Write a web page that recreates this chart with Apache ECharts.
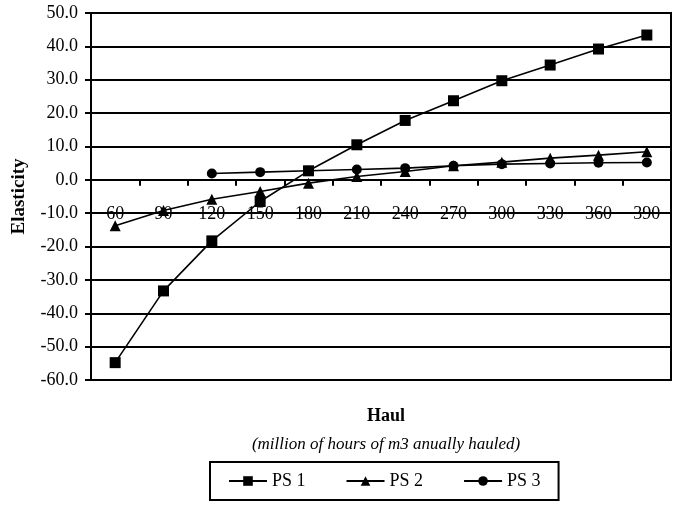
<!DOCTYPE html>
<html>
<head>
<meta charset="utf-8">
<script src="https://cdn.jsdelivr.net/npm/echarts@6/dist/echarts.min.js"></script>
<style>
  html, body { margin: 0; padding: 0; background: #fff; }
  #chart { width: 681px; height: 506px; }
</style>
</head>
<body>
<div id="chart"></div>
<script>
// Haul categories (x axis)
const haul = ['60', '90', '120', '150', '180', '210', '240', '270', '300', '330', '360', '390'];

// Elasticity per production scenario
const ps1 = [-54.8, -33.3, -18.3, -6.5, 2.7, 10.5, 17.8, 23.7, 29.7, 34.4, 39.2, 43.4];
const ps2 = [-13.8, -9.2, -5.8, -3.5, -1.0, 1.0, 2.5, 4.2, 5.3, 6.5, 7.4, 8.4];
const ps3 = [null, null, 1.9, 2.3, 2.7, 3.1, 3.5, 4.2, 4.7, 4.9, 5.1, 5.2];

// Value range of the elasticity axis
const yMin = -60, yMax = 50, yStep = 10;

const FONT = 'Liberation Serif, Times New Roman, serif';
const BLACK = '#000';

const GRID = { left: 91, right: 10, top: 13, bottom: 126 };
const plotHeight = 506 - GRID.top - GRID.bottom;
// lift the category axis from the bottom edge up to the zero line
const zeroOffset = -plotHeight * (0 - yMin) / (yMax - yMin);

const chart = echarts.init(document.getElementById('chart'));

function lineSeries(name, data, symbol, size) {
  return {
    name: name,
    type: 'line',
    data: data,
    symbol: symbol,
    symbolSize: size,
    connectNulls: false,
    lineStyle: { color: BLACK, width: 1.6 },
    itemStyle: { color: BLACK },
    emphasis: { disabled: true },
    animation: false
  };
}

chart.setOption({
  animation: false,
  textStyle: { fontFamily: FONT, color: BLACK },
  title: [
    {
      text: 'Haul',
      left: 381, top: 402, textAlign: 'center',
      textStyle: { fontFamily: FONT, fontSize: 18, fontWeight: 'bold', color: BLACK }
    },
    {
      text: '(million of hours of m3 anually hauled)',
      left: 381, top: 431, textAlign: 'center',
      textStyle: { fontFamily: FONT, fontSize: 17, fontStyle: 'italic', fontWeight: 'normal', color: BLACK }
    }
  ],
  legend: {
    left: 210, top: 462,
    padding: [10, 18, 10, 18],
    itemGap: 40,
    itemWidth: 38, itemHeight: 12,
    borderColor: BLACK, borderWidth: 2,
    textStyle: { fontFamily: FONT, fontSize: 18, color: BLACK },
    data: ['PS 1', 'PS 2', 'PS 3']
  },
  grid: {
    left: GRID.left, right: GRID.right, top: GRID.top, bottom: GRID.bottom,
    show: true, borderColor: BLACK, borderWidth: 2,
    containLabel: false
  },
  xAxis: {
    type: 'category',
    data: haul,
    boundaryGap: true,
    position: 'bottom',
    offset: zeroOffset,
    axisLine: { onZero: false, lineStyle: { color: BLACK, width: 2 } },
    axisTick: { show: true, inside: false, length: 6, lineStyle: { color: BLACK, width: 2 } },
    axisLabel: { margin: 25, fontFamily: FONT, fontSize: 18, color: BLACK },
    splitLine: { show: false }
  },
  yAxis: {
    type: 'value',
    min: yMin, max: yMax, interval: yStep,
    name: 'Elasticity',
    nameLocation: 'middle',
    nameRotate: 90,
    nameGap: 62,
    nameTextStyle: { fontFamily: FONT, fontSize: 19, fontWeight: 'bold', color: BLACK },
    axisLine: { show: true, lineStyle: { color: BLACK, width: 2 } },
    axisTick: { show: true, inside: false, length: 6, lineStyle: { color: BLACK, width: 2 } },
    axisLabel: {
      margin: 13, fontFamily: FONT, fontSize: 18, color: BLACK,
      formatter: function (v) { return v.toFixed(1); }
    },
    splitLine: { show: true, lineStyle: { color: BLACK, width: 2 } }
  },
  series: [
    lineSeries('PS 1', ps1, 'rect', 11),
    lineSeries('PS 2', ps2, 'triangle', 11),
    lineSeries('PS 3', ps3, 'circle', 10)
  ]
});
</script>
</body>
</html>
